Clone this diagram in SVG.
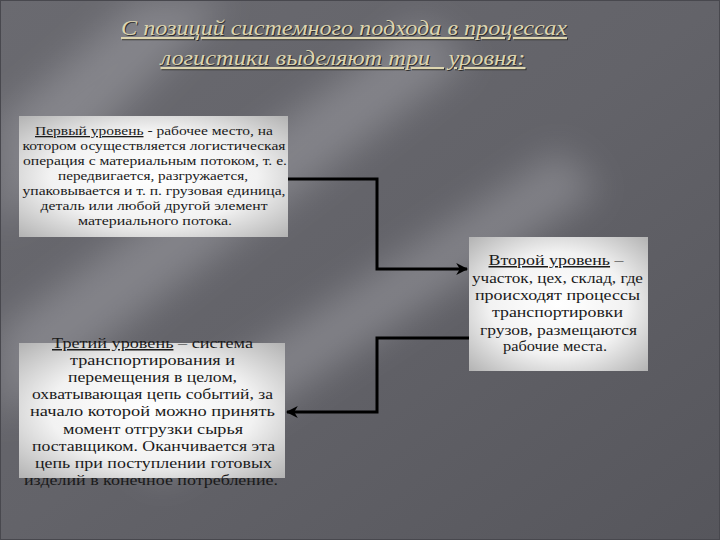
<svg xmlns="http://www.w3.org/2000/svg" width="720" height="540" viewBox="0 0 720 540">
<defs>
<linearGradient id="bg" x1="0" y1="0" x2="1" y2="1">
<stop offset="0" stop-color="#6a6a70"/>
<stop offset="0.5" stop-color="#636369"/>
<stop offset="1" stop-color="#56565c"/>
</linearGradient>
<radialGradient id="boxfill" cx="0.5" cy="0.5" r="0.7">
<stop offset="0" stop-color="#ffffff"/>
<stop offset="0.55" stop-color="#f2f2f2"/>
<stop offset="1" stop-color="#b4b4b4"/>
</radialGradient>
<filter id="blur" x="-50%" y="-50%" width="200%" height="200%">
<feGaussianBlur stdDeviation="18"/>
</filter>
<marker id="arr" viewBox="0 0 10 10" refX="9" refY="5" markerWidth="4" markerHeight="4" orient="auto">
<path d="M0,0 L10,5 L0,10 L3,5 Z" fill="#000"/>
</marker>
<style>
.box{fill:url(#boxfill);}
.t{font-family:"Liberation Serif","DejaVu Serif",serif;fill:#1a1a1a;text-anchor:middle;}
.t1{font-size:13px;}
.t2{font-size:15px;}
.u{text-decoration:underline;}
.title{font-family:"Liberation Serif","DejaVu Serif",serif;font-style:italic;font-size:22px;text-anchor:middle;text-decoration:underline;white-space:pre;}
.conn{fill:none;stroke:#000;stroke-width:3;marker-end:url(#arr);}
</style>
</defs>
<rect x="0" y="0" width="720" height="540" fill="url(#bg)"/>
<g filter="url(#blur)" fill="#a8a8ae" opacity="0.45">
<polygon points="0,120 140,0 230,0 0,230"/>
<polygon points="0,330 420,20 470,60 0,420"/>
<polygon points="120,440 560,150 600,190 160,480"/>
</g>
<rect x="0.5" y="0.5" width="719" height="539" fill="none" stroke="#48484e" stroke-width="1"/>

<g id="title" xml:space="preserve">
<text class="title" x="345" y="36" fill="#303030" textLength="446" lengthAdjust="spacingAndGlyphs">С позиций системного подхода в процессах</text>
<text class="title" x="344" y="66" fill="#303030" textLength="365" lengthAdjust="spacingAndGlyphs">логистики выделяют три   уровня:</text>
<text class="title" x="344" y="35" fill="#ddd5b0" textLength="446" lengthAdjust="spacingAndGlyphs">С позиций системного подхода в процессах</text>
<text class="title" x="343" y="65" fill="#ddd5b0" textLength="365" lengthAdjust="spacingAndGlyphs">логистики выделяют три   уровня:</text>
</g>

<g id="connectors">
<polyline class="conn" points="287,179 377,179 377,269 467,269"/>
<polyline class="conn" points="469,338 377,338 377,412 287,412"/>
</g>

<g id="level1">
<rect class="box" x="19" y="116" width="269" height="121"/>
<text class="t t1" x="154" y="135" textLength="238" lengthAdjust="spacingAndGlyphs"><tspan class="u">Первый уровень</tspan> - рабочее место, на</text>
<text class="t t1" x="154" y="150" textLength="263" lengthAdjust="spacingAndGlyphs">котором осуществляется логистическая</text>
<text class="t t1" x="155" y="165" textLength="264" lengthAdjust="spacingAndGlyphs">операция с материальным потоком, т. е.</text>
<text class="t t1" x="153" y="180" textLength="190" lengthAdjust="spacingAndGlyphs">передвигается, разгружается,</text>
<text class="t t1" x="154" y="195" textLength="263" lengthAdjust="spacingAndGlyphs">упаковывается и т. п. грузовая единица,</text>
<text class="t t1" x="154" y="210" textLength="227" lengthAdjust="spacingAndGlyphs">деталь или любой другой элемент</text>
<text class="t t1" x="155" y="225" textLength="154" lengthAdjust="spacingAndGlyphs">материального потока.</text>
</g>

<g id="level2">
<rect class="box" x="469" y="237" width="179" height="134"/>
<text class="t t2" x="556" y="265" textLength="135" lengthAdjust="spacingAndGlyphs"><tspan class="u">Второй уровень</tspan> –</text>
<text class="t t2" x="557.5" y="283" textLength="171" lengthAdjust="spacingAndGlyphs">участок, цех, склад, где</text>
<text class="t t2" x="557.5" y="300" textLength="165" lengthAdjust="spacingAndGlyphs">происходят процессы</text>
<text class="t t2" x="557.5" y="317" textLength="131" lengthAdjust="spacingAndGlyphs">транспортировки</text>
<text class="t t2" x="558.5" y="335" textLength="157" lengthAdjust="spacingAndGlyphs">грузов, размещаются</text>
<text class="t t2" x="555" y="351" textLength="104" lengthAdjust="spacingAndGlyphs">рабочие места.</text>
</g>

<g id="level3" xml:space="preserve">
<rect class="box" x="19" y="343" width="266" height="135"/>
<text class="t t2" x="152.5" y="348" textLength="201" lengthAdjust="spacingAndGlyphs"><tspan class="u">Третий уровень</tspan> –  система</text>
<text class="t t2" x="152.5" y="365" textLength="165" lengthAdjust="spacingAndGlyphs">транспортирования и</text>
<text class="t t2" x="152.5" y="382" textLength="169" lengthAdjust="spacingAndGlyphs">перемещения в целом,</text>
<text class="t t2" x="152.5" y="399" textLength="241" lengthAdjust="spacingAndGlyphs">охватывающая цепь событий, за</text>
<text class="t t2" x="152.5" y="416" textLength="245" lengthAdjust="spacingAndGlyphs">начало которой можно принять</text>
<text class="t t2" x="153" y="434" textLength="180" lengthAdjust="spacingAndGlyphs">момент отгрузки сырья</text>
<text class="t t2" x="153.5" y="451" textLength="243" lengthAdjust="spacingAndGlyphs">поставщиком. Оканчивается эта</text>
<text class="t t2" x="153.5" y="468" textLength="237" lengthAdjust="spacingAndGlyphs">цепь при поступлении готовых</text>
<text class="t t2" x="151" y="485" textLength="254" lengthAdjust="spacingAndGlyphs">изделий в конечное потребление.</text>
</g>
</svg>
